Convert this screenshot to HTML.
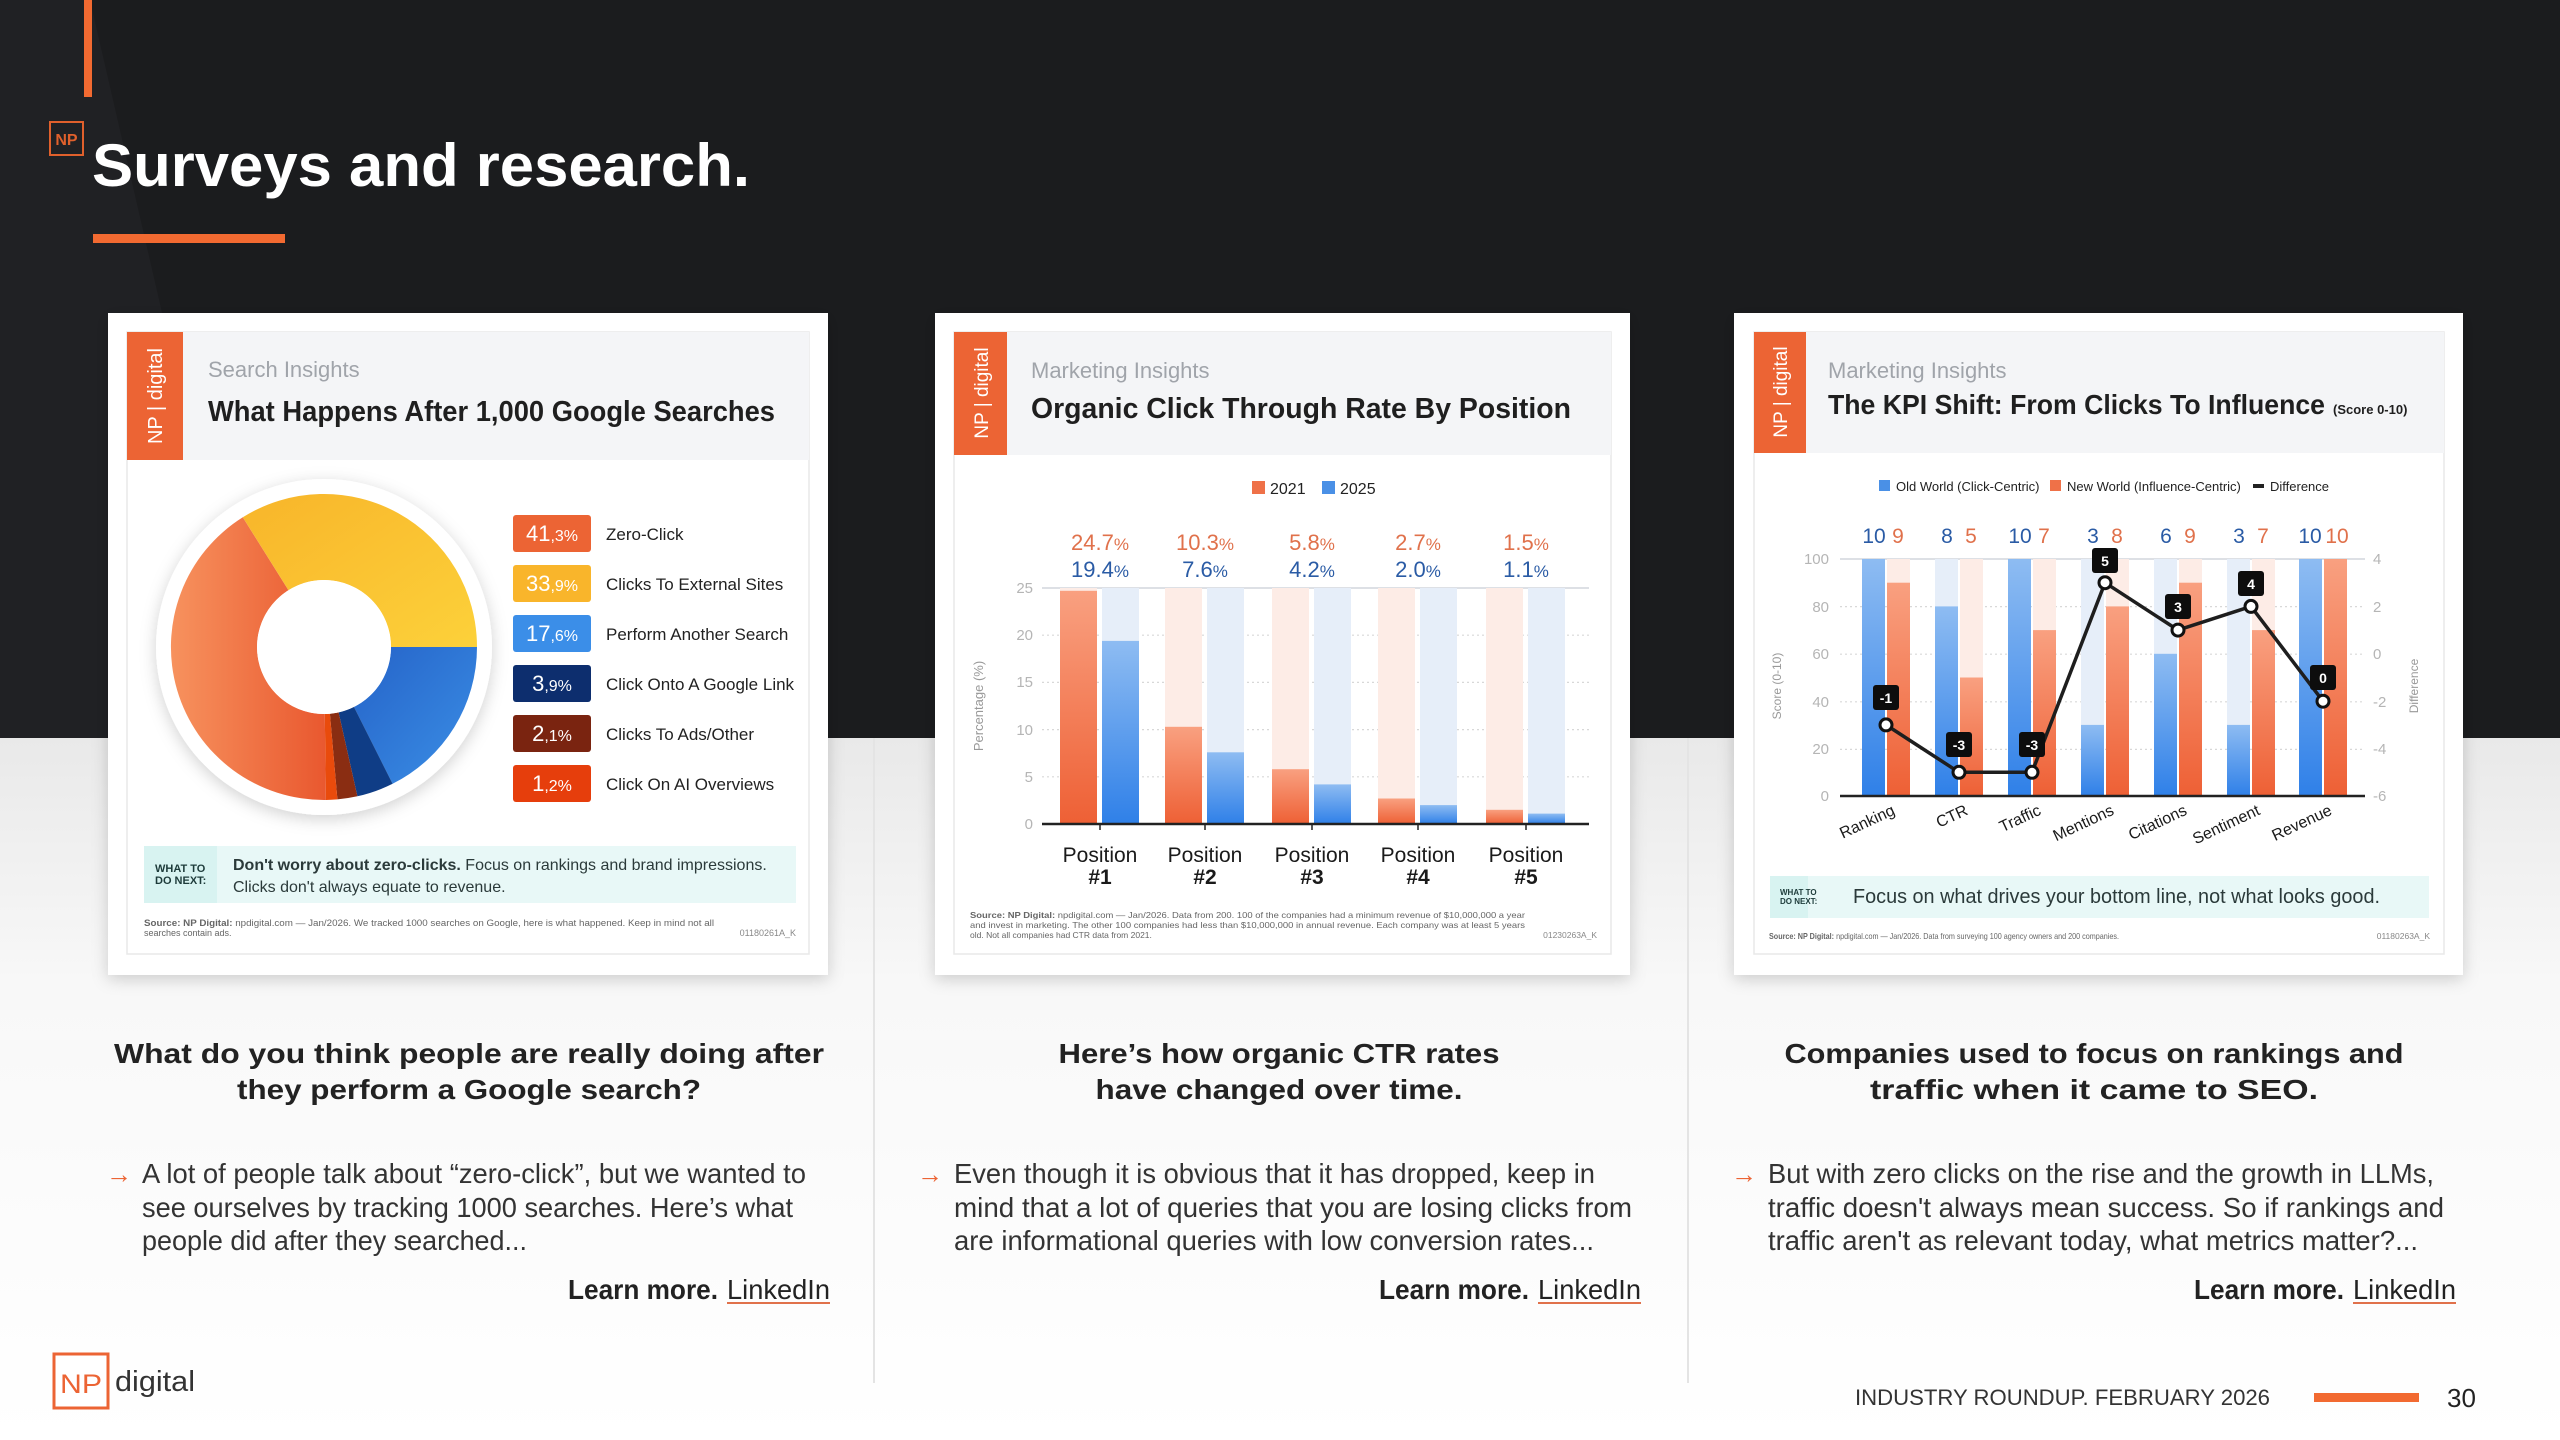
<!DOCTYPE html>
<html><head><meta charset="utf-8"><style>
html,body{margin:0;padding:0;width:2560px;height:1440px;overflow:hidden;background:#fff}
svg{display:block}
text{font-family:"Liberation Sans",sans-serif}
</style></head><body>
<svg width="2560" height="1440" viewBox="0 0 2560 1440" xmlns="http://www.w3.org/2000/svg">
<defs>
<linearGradient id="lightbg" x1="0" y1="0" x2="0" y2="1"><stop offset="0" stop-color="#e9e9e9"/><stop offset="0.35" stop-color="#f8f8f8"/><stop offset="1" stop-color="#ffffff"/></linearGradient>
<linearGradient id="gOr" x1="0" y1="0" x2="0" y2="1"><stop offset="0" stop-color="#f9a080"/><stop offset="1" stop-color="#ee6035"/></linearGradient>
<linearGradient id="gBl" x1="0" y1="0" x2="0" y2="1"><stop offset="0" stop-color="#8ebcf2"/><stop offset="1" stop-color="#2f80e8"/></linearGradient>
<linearGradient id="dOr" x1="0" y1="0" x2="1" y2="0"><stop offset="0" stop-color="#f7925e"/><stop offset="1" stop-color="#e9582f"/></linearGradient>
<linearGradient id="dYe" x1="0" y1="0" x2="1" y2="1"><stop offset="0" stop-color="#f8b52a"/><stop offset="1" stop-color="#fcd13a"/></linearGradient>
<linearGradient id="dBl" x1="0" y1="0" x2="1" y2="1"><stop offset="0" stop-color="#2563c8"/><stop offset="1" stop-color="#3b8fe6"/></linearGradient>
<filter id="sh" x="-10%" y="-10%" width="120%" height="120%"><feDropShadow dx="0" dy="4" stdDeviation="8" flood-color="#000" flood-opacity="0.18"/></filter>
</defs>

<!-- backgrounds -->
<rect x="0" y="0" width="2560" height="738" fill="#1b1c1e"/>
<polygon points="0,0 90,0 260,738 0,738" fill="#202124"/>
<rect x="0" y="738" width="2560" height="702" fill="url(#lightbg)"/>
<rect x="873" y="738" width="2" height="645" fill="#e4e4e4"/>
<rect x="1687" y="738" width="2" height="645" fill="#e4e4e4"/>

<!-- header -->
<rect x="84" y="0" width="8" height="97" fill="#f26a31"/>
<rect x="50" y="122" width="33" height="33" fill="none" stroke="#e0602c" stroke-width="2"/>
<text x="66.5" y="145" font-size="16" fill="#e0602c" text-anchor="middle" font-weight="bold">NP</text>
<text x="92" y="186" font-size="60" font-weight="bold" fill="#fff" textLength="658" lengthAdjust="spacingAndGlyphs">Surveys and research.</text>
<rect x="93" y="234" width="192" height="9" fill="#f26a31"/>

<!-- ================= CARD 1 ================= -->
<rect x="108" y="313" width="720" height="662" fill="#fff" filter="url(#sh)"/>
<rect x="127" y="332" width="682" height="622" fill="#fff" stroke="#e8e8e8" stroke-width="1.5"/>
<rect x="127" y="332" width="682" height="128" fill="#f4f5f7"/>
<rect x="127" y="332" width="56" height="128" fill="#ec6434"/>
<g transform="translate(155,396) rotate(-90)"><text x="0" y="7" font-size="20" fill="#fff" text-anchor="middle">NP | digital</text></g>
<text x="208" y="377" font-size="22" fill="#a0a4aa">Search Insights</text>
<text x="208" y="421" font-size="29" font-weight="bold" fill="#1f1f1f" textLength="567" lengthAdjust="spacingAndGlyphs">What Happens After 1,000 Google Searches</text>
<!-- donut -->
<circle cx="324" cy="647" r="168" fill="#fff" filter="url(#sh)"/>
<path d="M477,647 A153,153 0 0 1 392.6,783.8 L354,706.9 A67,67 0 0 0 391,647 Z" fill="url(#dBl)"/>
<path d="M392.6,783.8 A153,153 0 0 1 357.4,796.3 L338.6,712.4 A67,67 0 0 0 354,706.9 Z" fill="#0f3d86"/>
<path d="M357.4,796.3 A153,153 0 0 1 337.4,799.4 L329.9,713.7 A67,67 0 0 0 338.6,712.4 Z" fill="#8a2d12"/>
<path d="M337.4,799.4 A153,153 0 0 1 325.9,800 L324.8,714 A67,67 0 0 0 329.9,713.7 Z" fill="#e94b0c"/>
<path d="M325.9,800 A153,153 0 0 1 242.8,517.3 L288.5,590.2 A67,67 0 0 0 324.8,714 Z" fill="url(#dOr)"/>
<path d="M242.8,517.3 A153,153 0 0 1 477,647 L391,647 A67,67 0 0 0 288.5,590.2 Z" fill="url(#dYe)"/>
<circle cx="324" cy="647" r="67" fill="#fff"/>
<!-- legend -->
<g font-size="17" fill="#222">
<rect x="513" y="515" width="78" height="37" rx="3" fill="#ec6434"/><text x="552" y="541" font-size="22" fill="#fff" text-anchor="middle">41<tspan font-size="16">,3%</tspan></text><text x="606" y="540">Zero-Click</text>
<rect x="513" y="565" width="78" height="37" rx="3" fill="#f9b52b"/><text x="552" y="591" font-size="22" fill="#fff" text-anchor="middle">33<tspan font-size="16">,9%</tspan></text><text x="606" y="590">Clicks To External Sites</text>
<rect x="513" y="615" width="78" height="37" rx="3" fill="#3b8ee8"/><text x="552" y="641" font-size="22" fill="#fff" text-anchor="middle">17<tspan font-size="16">,6%</tspan></text><text x="606" y="640">Perform Another Search</text>
<rect x="513" y="665" width="78" height="37" rx="3" fill="#0d2e6e"/><text x="552" y="691" font-size="22" fill="#fff" text-anchor="middle">3<tspan font-size="16">,9%</tspan></text><text x="606" y="690">Click Onto A Google Link</text>
<rect x="513" y="715" width="78" height="37" rx="3" fill="#7a2410"/><text x="552" y="741" font-size="22" fill="#fff" text-anchor="middle">2<tspan font-size="16">,1%</tspan></text><text x="606" y="740">Clicks To Ads/Other</text>
<rect x="513" y="765" width="78" height="37" rx="3" fill="#e63e0c"/><text x="552" y="791" font-size="22" fill="#fff" text-anchor="middle">1<tspan font-size="16">,2%</tspan></text><text x="606" y="790">Click On AI Overviews</text>
</g>
<rect x="144" y="846" width="652" height="57" fill="#e8f8f7"/>
<rect x="144" y="846" width="73" height="57" fill="#d8f3f1"/>
<text x="155" y="872" font-size="11" font-weight="bold" fill="#1d3b3a">WHAT TO</text>
<text x="155" y="884" font-size="11" font-weight="bold" fill="#1d3b3a">DO NEXT:</text>
<text x="233" y="870" font-size="16" fill="#2b3a3a"><tspan font-weight="bold">Don't worry about zero-clicks.</tspan> Focus on rankings and brand impressions.</text>
<text x="233" y="892" font-size="16" fill="#2b3a3a">Clicks don't always equate to revenue.</text>
<text x="144" y="926" font-size="9" fill="#666" textLength="570" lengthAdjust="spacingAndGlyphs"><tspan font-weight="bold">Source: NP Digital:</tspan> npdigital.com — Jan/2026. We tracked 1000 searches on Google, here is what happened. Keep in mind not all</text>
<text x="144" y="936" font-size="9" fill="#666">searches contain ads.</text>
<text x="796" y="936" font-size="9" fill="#888" text-anchor="end">01180261A_K</text>

<!-- ================= CARD 2 ================= -->
<rect x="935" y="313" width="695" height="662" fill="#fff" filter="url(#sh)"/>
<rect x="954" y="332" width="657" height="622" fill="#fff" stroke="#e8e8e8" stroke-width="1.5"/>
<rect x="954" y="332" width="657" height="123" fill="#f4f5f7"/>
<rect x="954" y="332" width="53" height="123" fill="#ec6434"/>
<g transform="translate(981,393) rotate(-90)"><text x="0" y="7" font-size="19" fill="#fff" text-anchor="middle">NP | digital</text></g>
<text x="1031" y="378" font-size="22" fill="#a0a4aa">Marketing Insights</text>
<text x="1031" y="418" font-size="29" font-weight="bold" fill="#1f1f1f" textLength="540" lengthAdjust="spacingAndGlyphs">Organic Click Through Rate By Position</text>
<rect x="1252" y="481" width="13" height="13" fill="#ef7148"/><text x="1270" y="494" font-size="16" fill="#222">2021</text>
<rect x="1322" y="481" width="13" height="13" fill="#4a90e6"/><text x="1340" y="494" font-size="16" fill="#222">2025</text>
<!-- grid -->
<line x1="1042" y1="588" x2="1589" y2="588" stroke="#dde0e5" stroke-width="2"/>
<g stroke="#d8d8d8" stroke-width="1.2" stroke-dasharray="2,3">
<line x1="1042" y1="635.2" x2="1589" y2="635.2"/><line x1="1042" y1="682.4" x2="1589" y2="682.4"/><line x1="1042" y1="729.6" x2="1589" y2="729.6"/><line x1="1042" y1="776.8" x2="1589" y2="776.8"/></g>
<g font-size="15" fill="#b5b5b5" text-anchor="end">
<text x="1033" y="593">25</text><text x="1033" y="640">20</text><text x="1033" y="687">15</text><text x="1033" y="735">10</text><text x="1033" y="782">5</text><text x="1033" y="829">0</text></g>
<g transform="translate(983,706) rotate(-90)"><text x="0" y="0" font-size="13" fill="#999" text-anchor="middle">Percentage (%)</text></g>
<!-- pale bars -->
<g fill="#fdece6"><rect x="1060" y="588" width="37" height="236"/><rect x="1165" y="588" width="37" height="236"/><rect x="1272" y="588" width="37" height="236"/><rect x="1378" y="588" width="37" height="236"/><rect x="1486" y="588" width="37" height="236"/></g>
<g fill="#e6eef9"><rect x="1102" y="588" width="37" height="236"/><rect x="1207" y="588" width="37" height="236"/><rect x="1314" y="588" width="37" height="236"/><rect x="1420" y="588" width="37" height="236"/><rect x="1528" y="588" width="37" height="236"/></g>
<g fill="url(#gOr)"><rect x="1060" y="590.8" width="37" height="233.2"/><rect x="1165" y="726.8" width="37" height="97.2"/><rect x="1272" y="769.2" width="37" height="54.8"/><rect x="1378" y="798.5" width="37" height="25.5"/><rect x="1486" y="809.8" width="37" height="14.2"/></g>
<g fill="url(#gBl)"><rect x="1102" y="640.9" width="37" height="183.1"/><rect x="1207" y="752.3" width="37" height="71.7"/><rect x="1314" y="784.4" width="37" height="39.6"/><rect x="1420" y="805.1" width="37" height="18.9"/><rect x="1528" y="813.6" width="37" height="10.4"/></g>
<line x1="1042" y1="824" x2="1589" y2="824" stroke="#222" stroke-width="2.5"/>
<g stroke="#222" stroke-width="1.5"><line x1="1100" y1="824" x2="1100" y2="830"/><line x1="1205" y1="824" x2="1205" y2="830"/><line x1="1312" y1="824" x2="1312" y2="830"/><line x1="1418" y1="824" x2="1418" y2="830"/><line x1="1526" y1="824" x2="1526" y2="830"/></g>
<g font-size="22" text-anchor="middle" fill="#e0714b">
<text x="1100" y="550">24.7<tspan font-size="17">%</tspan></text><text x="1205" y="550">10.3<tspan font-size="17">%</tspan></text><text x="1312" y="550">5.8<tspan font-size="17">%</tspan></text><text x="1418" y="550">2.7<tspan font-size="17">%</tspan></text><text x="1526" y="550">1.5<tspan font-size="17">%</tspan></text></g>
<g font-size="22" text-anchor="middle" fill="#2a5ba5">
<text x="1100" y="577">19.4<tspan font-size="17">%</tspan></text><text x="1205" y="577">7.6<tspan font-size="17">%</tspan></text><text x="1312" y="577">4.2<tspan font-size="17">%</tspan></text><text x="1418" y="577">2.0<tspan font-size="17">%</tspan></text><text x="1526" y="577">1.1<tspan font-size="17">%</tspan></text></g>
<g font-size="21" text-anchor="middle" fill="#1a1a1a">
<text x="1100" y="862">Position</text><text x="1205" y="862">Position</text><text x="1312" y="862">Position</text><text x="1418" y="862">Position</text><text x="1526" y="862">Position</text></g>
<g font-size="21" font-weight="bold" text-anchor="middle" fill="#1a1a1a">
<text x="1100" y="884">#1</text><text x="1205" y="884">#2</text><text x="1312" y="884">#3</text><text x="1418" y="884">#4</text><text x="1526" y="884">#5</text></g>
<g font-size="8.5" fill="#666">
<text x="970" y="918" textLength="555" lengthAdjust="spacingAndGlyphs"><tspan font-weight="bold">Source: NP Digital:</tspan> npdigital.com — Jan/2026. Data from 200. 100 of the companies had a minimum revenue of $10,000,000 a year</text>
<text x="970" y="928" textLength="555" lengthAdjust="spacingAndGlyphs">and invest in marketing. The other 100 companies had less than $10,000,000 in annual revenue. Each company was at least 5 years</text>
<text x="970" y="938">old. Not all companies had CTR data from 2021.</text>
<text x="1597" y="938" fill="#888" text-anchor="end">01230263A_K</text></g>

<!-- ================= CARD 3 ================= -->
<rect x="1734" y="313" width="729" height="662" fill="#fff" filter="url(#sh)"/>
<rect x="1754" y="332" width="690" height="622" fill="#fff" stroke="#e8e8e8" stroke-width="1.5"/>
<rect x="1754" y="332" width="690" height="121" fill="#f4f5f7"/>
<rect x="1754" y="332" width="52" height="121" fill="#ec6434"/>
<g transform="translate(1780,392) rotate(-90)"><text x="0" y="7" font-size="19" fill="#fff" text-anchor="middle">NP | digital</text></g>
<text x="1828" y="378" font-size="22" fill="#a0a4aa">Marketing Insights</text>
<text x="1828" y="414" font-size="28" font-weight="bold" fill="#1f1f1f" textLength="497" lengthAdjust="spacingAndGlyphs">The KPI Shift: From Clicks To Influence</text>
<text x="2333" y="414" font-size="13" font-weight="bold" fill="#1f1f1f">(Score 0-10)</text>
<rect x="1879" y="480" width="11" height="11" fill="#4a90e6"/><text x="1896" y="491" font-size="13" fill="#222">Old World (Click-Centric)</text>
<rect x="2050" y="480" width="11" height="11" fill="#ef7148"/><text x="2067" y="491" font-size="13" fill="#222">New World (Influence-Centric)</text>
<rect x="2253" y="484" width="11" height="4" fill="#222"/><text x="2270" y="491" font-size="13" fill="#222">Difference</text>
<line x1="1840" y1="559" x2="2365" y2="559" stroke="#dde0e5" stroke-width="2"/>
<g stroke="#d8d8d8" stroke-width="1.2" stroke-dasharray="2,3">
<line x1="1840" y1="606.6" x2="2365" y2="606.6"/><line x1="1840" y1="654.2" x2="2365" y2="654.2"/><line x1="1840" y1="701.8" x2="2365" y2="701.8"/><line x1="1840" y1="749.4" x2="2365" y2="749.4"/></g>
<g font-size="15" fill="#b5b5b5" text-anchor="end">
<text x="1829" y="564">100</text><text x="1829" y="612">80</text><text x="1829" y="659">60</text><text x="1829" y="707">40</text><text x="1829" y="754">20</text><text x="1829" y="801">0</text></g>
<g font-size="15" fill="#b5b5b5">
<text x="2373" y="564">4</text><text x="2373" y="612">2</text><text x="2373" y="659">0</text><text x="2373" y="707">-2</text><text x="2373" y="754">-4</text><text x="2373" y="801">-6</text></g>
<g transform="translate(1781,686) rotate(-90)"><text x="0" y="0" font-size="12" fill="#999" text-anchor="middle">Score (0-10)</text></g>
<g transform="translate(2418,686) rotate(-90)"><text x="0" y="0" font-size="12" fill="#999" text-anchor="middle">Difference</text></g>
<!-- pale -->
<g fill="#e6eef9"><rect x="1862" y="559" width="23" height="237"/><rect x="1935" y="559" width="23" height="237"/><rect x="2008" y="559" width="23" height="237"/><rect x="2081" y="559" width="23" height="237"/><rect x="2154" y="559" width="23" height="237"/><rect x="2227" y="559" width="23" height="237"/><rect x="2299" y="559" width="23" height="237"/></g>
<g fill="#fdece6"><rect x="1887" y="559" width="23" height="237"/><rect x="1960" y="559" width="23" height="237"/><rect x="2033" y="559" width="23" height="237"/><rect x="2106" y="559" width="23" height="237"/><rect x="2179" y="559" width="23" height="237"/><rect x="2252" y="559" width="23" height="237"/><rect x="2324" y="559" width="23" height="237"/></g>
<g fill="url(#gBl)"><rect x="1862" y="559" width="23" height="237"/><rect x="1935" y="606.4" width="23" height="189.6"/><rect x="2008" y="559" width="23" height="237"/><rect x="2081" y="724.9" width="23" height="71.1"/><rect x="2154" y="653.8" width="23" height="142.2"/><rect x="2227" y="724.9" width="23" height="71.1"/><rect x="2299" y="559" width="23" height="237"/></g>
<g fill="url(#gOr)"><rect x="1887" y="582.7" width="23" height="213.3"/><rect x="1960" y="677.5" width="23" height="118.5"/><rect x="2033" y="630.1" width="23" height="165.9"/><rect x="2106" y="606.4" width="23" height="189.6"/><rect x="2179" y="582.7" width="23" height="213.3"/><rect x="2252" y="630.1" width="23" height="165.9"/><rect x="2324" y="559" width="23" height="237"/></g>
<line x1="1840" y1="796" x2="2365" y2="796" stroke="#222" stroke-width="2.5"/>
<polyline points="1886,724.9 1959,772.3 2032,772.3 2105,582.7 2178,630.1 2251,606.4 2323,701.2" fill="none" stroke="#1e1e1e" stroke-width="3.5" stroke-linejoin="round"/>
<g fill="#fff" stroke="#111" stroke-width="3">
<circle cx="1886" cy="724.9" r="6"/><circle cx="1959" cy="772.3" r="6"/><circle cx="2032" cy="772.3" r="6"/><circle cx="2105" cy="582.7" r="6"/><circle cx="2178" cy="630.1" r="6"/><circle cx="2251" cy="606.4" r="6"/><circle cx="2323" cy="701.2" r="6"/></g>
<g fill="#0d0d0d">
<rect x="1873" y="685" width="26" height="25" rx="3"/><rect x="1946" y="732" width="26" height="25" rx="3"/><rect x="2019" y="732" width="26" height="25" rx="3"/><rect x="2092" y="548" width="26" height="25" rx="3"/><rect x="2165" y="594" width="26" height="25" rx="3"/><rect x="2238" y="571" width="26" height="25" rx="3"/><rect x="2310" y="665" width="26" height="25" rx="3"/></g>
<g font-size="14" font-weight="bold" fill="#fff" text-anchor="middle">
<text x="1886" y="703">-1</text><text x="1959" y="750">-3</text><text x="2032" y="750">-3</text><text x="2105" y="566">5</text><text x="2178" y="612">3</text><text x="2251" y="589">4</text><text x="2323" y="683">0</text></g>
<g font-size="21" text-anchor="middle">
<g fill="#2a5ba5"><text x="1874" y="543">10</text><text x="1947" y="543">8</text><text x="2020" y="543">10</text><text x="2093" y="543">3</text><text x="2166" y="543">6</text><text x="2239" y="543">3</text><text x="2310" y="543">10</text></g>
<g fill="#e0714b"><text x="1898" y="543">9</text><text x="1971" y="543">5</text><text x="2044" y="543">7</text><text x="2117" y="543">8</text><text x="2190" y="543">9</text><text x="2263" y="543">7</text><text x="2337" y="543">10</text></g></g>
<g font-size="16" fill="#1a1a1a" text-anchor="end">
<text transform="translate(1896,814) rotate(-25)">Ranking</text>
<text transform="translate(1969,814) rotate(-25)">CTR</text>
<text transform="translate(2042,814) rotate(-25)">Traffic</text>
<text transform="translate(2115,814) rotate(-25)">Mentions</text>
<text transform="translate(2188,814) rotate(-25)">Citations</text>
<text transform="translate(2261,814) rotate(-25)">Sentiment</text>
<text transform="translate(2333,814) rotate(-25)">Revenue</text></g>
<rect x="1770" y="876" width="659" height="42" fill="#e8f8f7"/>
<rect x="1770" y="876" width="38" height="42" fill="#d8f3f1"/>
<text x="1780" y="895" font-size="8" font-weight="bold" fill="#1d3b3a">WHAT TO</text>
<text x="1780" y="904" font-size="8" font-weight="bold" fill="#1d3b3a">DO NEXT:</text>
<text x="1853" y="903" font-size="20" fill="#2b3a3a" textLength="527" lengthAdjust="spacingAndGlyphs">Focus on what drives your bottom line, not what looks good.</text>
<text x="1769" y="939" font-size="8.5" fill="#666" textLength="350" lengthAdjust="spacingAndGlyphs"><tspan font-weight="bold">Source: NP Digital:</tspan> npdigital.com — Jan/2026. Data from surveying 100 agency owners and 200 companies.</text>
<text x="2430" y="939" font-size="8.5" fill="#888" text-anchor="end">01180263A_K</text>

<!-- ============ captions ============ -->
<g font-size="28" font-weight="bold" fill="#222" text-anchor="middle">
<text x="469" y="1063" textLength="710" lengthAdjust="spacingAndGlyphs">What do you think people are really doing after</text>
<text x="469" y="1099" textLength="464" lengthAdjust="spacingAndGlyphs">they perform a Google search?</text>
<text x="1279" y="1063" textLength="441" lengthAdjust="spacingAndGlyphs">Here’s how organic CTR rates</text>
<text x="1279" y="1099" textLength="367" lengthAdjust="spacingAndGlyphs">have changed over time.</text>
<text x="2094" y="1063" textLength="619" lengthAdjust="spacingAndGlyphs">Companies used to focus on rankings and</text>
<text x="2094" y="1099" textLength="448" lengthAdjust="spacingAndGlyphs">traffic when it came to SEO.</text>
</g>
<g font-size="28" fill="#333">
<text x="106" y="1183" fill="#ec6434" font-size="26">→</text>
<text x="142" y="1183" textLength="664" lengthAdjust="spacingAndGlyphs">A lot of people talk about “zero-click”, but we wanted to</text>
<text x="142" y="1217" textLength="651" lengthAdjust="spacingAndGlyphs">see ourselves by tracking 1000 searches. Here’s what</text>
<text x="142" y="1250" textLength="385" lengthAdjust="spacingAndGlyphs">people did after they searched...</text>
<text x="917" y="1183" fill="#ec6434" font-size="26">→</text>
<text x="954" y="1183" textLength="641" lengthAdjust="spacingAndGlyphs">Even though it is obvious that it has dropped, keep in</text>
<text x="954" y="1217" textLength="678" lengthAdjust="spacingAndGlyphs">mind that a lot of queries that you are losing clicks from</text>
<text x="954" y="1250" textLength="640" lengthAdjust="spacingAndGlyphs">are informational queries with low conversion rates...</text>
<text x="1731" y="1183" fill="#ec6434" font-size="26">→</text>
<text x="1768" y="1183" textLength="666" lengthAdjust="spacingAndGlyphs">But with zero clicks on the rise and the growth in LLMs,</text>
<text x="1768" y="1217" textLength="676" lengthAdjust="spacingAndGlyphs">traffic doesn't always mean success. So if rankings and</text>
<text x="1768" y="1250" textLength="650" lengthAdjust="spacingAndGlyphs">traffic aren't as relevant today, what metrics matter?...</text>
</g>
<g font-size="28" fill="#222">
<text x="568" y="1299" font-weight="bold" textLength="150" lengthAdjust="spacingAndGlyphs">Learn more.</text>
<text x="727" y="1299" textLength="103" lengthAdjust="spacingAndGlyphs">LinkedIn</text>
<rect x="727" y="1302" width="103" height="2" fill="#e0714b"/>
<text x="1379" y="1299" font-weight="bold" textLength="150" lengthAdjust="spacingAndGlyphs">Learn more.</text>
<text x="1538" y="1299" textLength="103" lengthAdjust="spacingAndGlyphs">LinkedIn</text>
<rect x="1538" y="1302" width="103" height="2" fill="#e0714b"/>
<text x="2194" y="1299" font-weight="bold" textLength="150" lengthAdjust="spacingAndGlyphs">Learn more.</text>
<text x="2353" y="1299" textLength="103" lengthAdjust="spacingAndGlyphs">LinkedIn</text>
<rect x="2353" y="1302" width="103" height="2" fill="#e0714b"/>
</g>

<!-- footer -->
<rect x="54" y="1354" width="54" height="54" fill="#fff" stroke="#ec6434" stroke-width="3"/>
<text x="81" y="1393" font-size="27" fill="#ec6434" text-anchor="middle" textLength="42" lengthAdjust="spacingAndGlyphs">NP</text>
<text x="115" y="1391" font-size="29" fill="#333" textLength="80" lengthAdjust="spacingAndGlyphs">digital</text>
<text x="1855" y="1405" font-size="22" fill="#333" textLength="415" lengthAdjust="spacingAndGlyphs">INDUSTRY ROUNDUP. FEBRUARY 2026</text>
<rect x="2314" y="1393" width="105" height="9" fill="#f26a31"/>
<text x="2447" y="1407" font-size="26" fill="#222">30</text>
</svg>
</body></html>
